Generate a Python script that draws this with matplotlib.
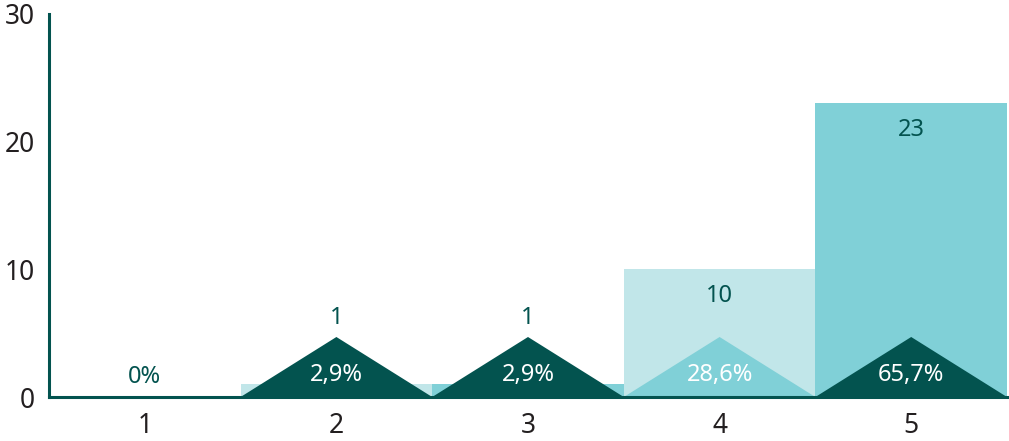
import matplotlib.pyplot as plt

plt.rcParams["font.family"] = ["Noto Sans", "DejaVu Sans"]

DARK = "#03534f"
TEAL = "#80d0d7"
LIGHT = "#c1e6e9"
TEXT = "#231f20"

categories = [1, 2, 3, 4, 5]
counts = [0, 1, 1, 10, 23]
percents = [0.0, 2.9, 2.9, 28.6, 65.7]
bar_colors = [TEAL, LIGHT, TEAL, LIGHT, TEAL]
tri_colors = [DARK, DARK, DARK, TEAL, DARK]

TRI_H = 4.7  # height of the percentage triangles, in data units


def main():
    fig = plt.figure(figsize=(10.09, 4.41), dpi=100)
    ax = fig.add_axes([49 / 1009, 44 / 441, 958 / 1009, 383 / 441])

    ax.bar(categories, counts, width=1.0, color=bar_colors, zorder=1)

    for x, n, p, tc in zip(categories, counts, percents, tri_colors):
        if p > 0:
            ax.fill([x - 0.5, x, x + 0.5], [0, TRI_H, 0], color=tc, lw=0, zorder=2)
            ax.text(x, 1.75, f"{p:.1f}%".replace(".", ","), ha="center", va="center",
                    color="white", fontsize=17, zorder=3)
        else:
            ax.text(x, 1.6, "0%", ha="center", va="center", color=DARK, fontsize=17, zorder=3)
        if n > 0:
            y = n - 2.1 if n > TRI_H + 3 else TRI_H + 1.5
            ax.text(x, y, str(n), ha="center", va="center", color=DARK, fontsize=17, zorder=3)

    ax.set_xlim(0.5, 5.5)
    ax.set_ylim(0, 30)
    ax.set_xticks(categories)
    ax.set_yticks([0, 10, 20, 30])
    ax.tick_params(length=0, labelsize=19, labelcolor=TEXT)
    ax.tick_params(axis="x", pad=11)
    ax.tick_params(axis="y", pad=10)
    for s in ("top", "right"):
        ax.spines[s].set_visible(False)
    for s in ("left", "bottom"):
        ax.spines[s].set_color(DARK)
        ax.spines[s].set_linewidth(2.2)
        ax.spines[s].set_zorder(4)

    fig.savefig("out.png", dpi=100)


if __name__ == "__main__":
    main()
